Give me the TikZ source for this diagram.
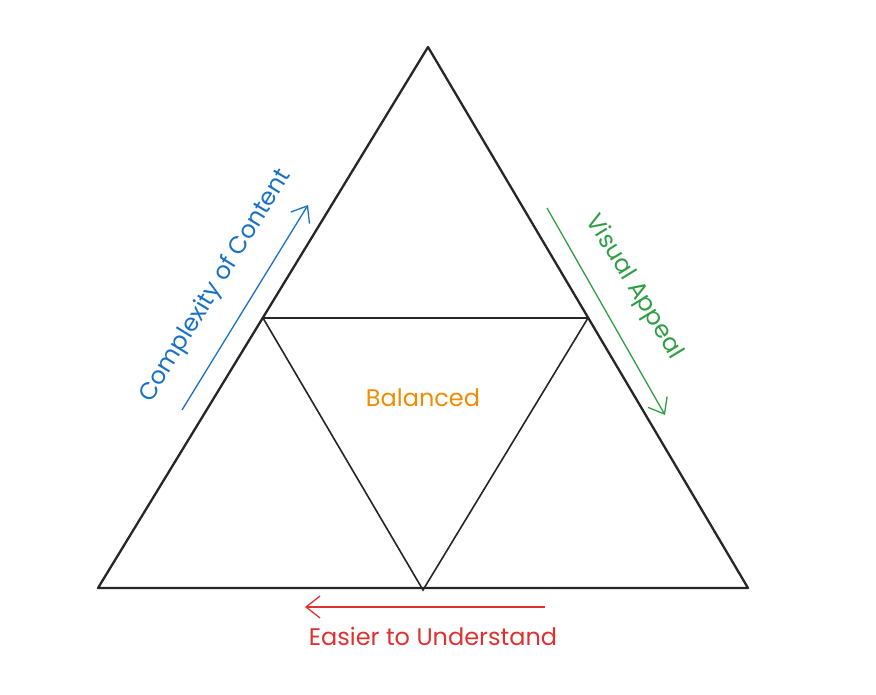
\documentclass[tikz,border=0pt]{standalone}
\usepackage{fontspec}
\setmainfont{Poppins}
\usetikzlibrary{arrows.meta}
\definecolor{sketchblue}{HTML}{1971C2}
\definecolor{sketchgreen}{HTML}{2F9E44}
\definecolor{sketchred}{HTML}{E03131}
\definecolor{sketchorange}{HTML}{F08C00}
\tikzset{
    edge/.style={line width=2.3pt, draw=black!85, line join=round},
    inner/.style={line width=1.6pt, draw=black!85},
    trend/.style={line width=1.3pt, -{Straight Barb[length=14pt, width=22pt]}},
    label/.style={font=\fontsize{24}{28}\selectfont, inner sep=0pt}
}
\begin{document}
\begin{tikzpicture}[x=1pt, y=-1pt]
        \useasboundingbox (0,0) rectangle (876,694);
        \coordinate (top) at (428,47);
        \coordinate (left) at (98,588);
        \coordinate (right) at (748,588);
        \coordinate (midL) at (263,318);
        \coordinate (midR) at (588,318);
        \coordinate (midB) at (423,590);
        \draw 
            [edge] (top)--(right)--(left)--cycle;
        \draw 
            [inner] (midL)--(midR)--(midB)--cycle;
        \coordinate (cStart) at (182,410);
        \coordinate (cEnd) at (308,205);
        \draw 
            [trend, sketchblue] (cStart)--(cEnd);
        \node 
            [label, text=sketchblue, rotate=58.5] (complexity) at (216,286) {Complexity of Content};
        \coordinate (vStart) at (547,208);
        \coordinate (vEnd) at (665,415);
        \draw 
            [trend, sketchgreen] (vStart)--(vEnd);
        \node 
            [label, text=sketchgreen, rotate=-58.5] (visual) at (634,287) {Visual Appeal};
        \coordinate (eStart) at (545,607);
        \coordinate (eEnd) at (305,607);
        \draw 
            [trend, sketchred] (eStart)--(eEnd);
        \node 
            [label, text=sketchred] (easier) at (433,636) {Easier to Understand};
        \node 
            [label, text=sketchorange] (balanced) at (423,398) {Balanced};
    \end{tikzpicture}
\end{document}
